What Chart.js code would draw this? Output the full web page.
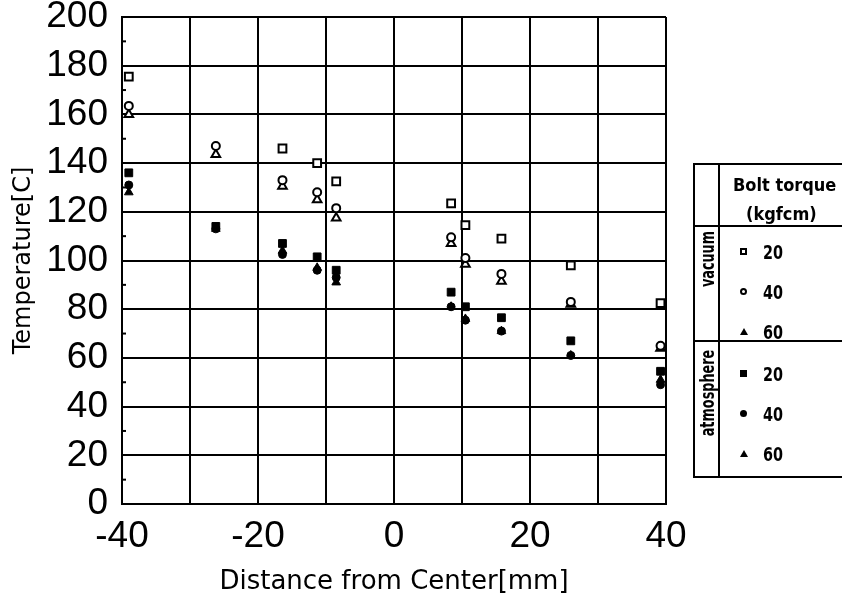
<!DOCTYPE html>
<html>
<head>
<meta charset="utf-8">
<script src="https://cdn.jsdelivr.net/npm/chart.js@4.4.0/dist/chart.umd.min.js"></script>
<style>
  body { margin: 0; background: #fff; }
  #wrap { position: relative; width: 842px; height: 601px; }
  #legend { position: absolute; left: 693px; top: 163px; width: 160px; height: 315px;
    border: 2px solid #000; box-sizing: border-box; color: #000;
    font-family: "Liberation Sans Narrow", "DejaVu Sans Condensed", "DejaVu Sans", sans-serif; font-weight: bold; }
  #legend .vline { position: absolute; left: 23px; top: 0; bottom: 0; border-left: 2px solid #000; }
  #legend .hline { position: absolute; left: 0; right: 0; border-top: 2px solid #000; }
  #legend .t { position: absolute; white-space: nowrap; line-height: 1; }
  #legend .side { position: absolute; font-size: 19px; line-height: 1; white-space: nowrap;
    transform: translate(-50%, -50%) rotate(-90deg) scaleX(0.75); }
  #legend .mk { position: absolute; width: 7px; height: 7px; box-sizing: border-box; }
</style>
</head>
<body>
<div id="wrap">
  <canvas id="chart" width="842" height="601"></canvas>
  <div id="legend"></div>
</div>
<script>
// distance from center [mm]
const positions = [-39, -26.2, -16.4, -11.3, -8.5, 8.4, 10.5, 15.8, 26, 39.2];

// temperatures [C], vacuum
const vacuum20 = [175.5, null, 146, 140, 132.5, 123.5, 114.5, 109, 98, 82.5];
const vacuum40 = [163.5, 147, 133, 128, 121.5, 109.5, 101, 94.5, 83, 65];
const vacuum60 = [160, 143.5, 130.5, 125, 117.5, 107, 98.5, 91.5, 82, 64];

// temperatures [C], atmosphere
const atmos20 = [136, 114, 107, 101.5, 96, 87, 81, 76.5, 67, 54.5];
const atmos40 = [131, 113, 102.5, 96, 93, 81, 75.5, 71, 61, 49];
const atmos60 = [128, 113, 104, 97, 91, 81, 76, 71, 61, 51];

const torqueLabels = ['20', '40', '60'];

const toPoints = (ys) => positions.map((x, i) => ({ x, y: ys[i] })).filter(p => p.y !== null);

const radiusFor = (style) => (style === 'rect' ? 5.5 : style === 'triangle' ? 5 : 4);

const openSet = (label, ys, style) => ({
  label, data: toPoints(ys), pointStyle: style, pointRadius: radiusFor(style),
  backgroundColor: '#fff', borderColor: '#000', pointBorderWidth: 2,
});
const filledSet = (label, ys, style) => ({
  label, data: toPoints(ys), pointStyle: style, pointRadius: radiusFor(style),
  backgroundColor: '#000', borderColor: '#000', pointBorderWidth: 1,
});

// small minor ticks on the left axis, between the labelled ones
const minorTicks = {
  id: 'minorTicks',
  afterDatasetsDraw(chart) {
    const { ctx, chartArea, scales } = chart;
    ctx.save();
    ctx.strokeStyle = '#000';
    ctx.lineWidth = 2;
    for (let v = 10; v < 200; v += 20) {
      const y = scales.y.getPixelForValue(v);
      ctx.beginPath();
      ctx.moveTo(chartArea.left, y);
      ctx.lineTo(chartArea.left + 4, y);
      ctx.stroke();
    }
    ctx.restore();
  },
};

new Chart(document.getElementById('chart'), {
  type: 'scatter',
  data: {
    datasets: [
      openSet('vacuum 20', vacuum20, 'rect'),
      openSet('vacuum 40', vacuum40, 'circle'),
      openSet('vacuum 60', vacuum60, 'triangle'),
      filledSet('atmosphere 20', atmos20, 'rect'),
      filledSet('atmosphere 40', atmos40, 'circle'),
      filledSet('atmosphere 60', atmos60, 'triangle'),
    ],
  },
  options: {
    responsive: false,
    animation: false,
    layout: { padding: { top: 0, right: 176, left: 9, bottom: 3 } },
    scales: {
      x: {
        type: 'linear', min: -40, max: 40,
        border: { display: true, color: '#000', width: 2 },
        grid: { color: '#000', lineWidth: 2, drawTicks: false },
        ticks: {
          stepSize: 10, color: '#000', padding: 14,
          font: { family: 'Liberation Sans', size: 37, lineHeight: 1 },
          callback: (v) => (v % 20 === 0 ? v : ''),
        },
        title: {
          display: true, text: 'Distance from Center[mm]', color: '#000',
          font: { family: 'DejaVu Sans', size: 26 }, padding: { top: 10, bottom: 0 },
        },
        afterFit: (scale) => {
          scale.height = 94;
          scale.paddingLeft = 0;
          scale.paddingRight = 0;
        },
      },
      y: {
        min: 0, max: 200,
        border: { display: true, color: '#000', width: 2 },
        grid: { color: '#000', lineWidth: 2, drawTicks: false },
        ticks: {
          stepSize: 20, color: '#000', padding: 14,
          font: { family: 'Liberation Sans', size: 37, lineHeight: 1 },
        },
        title: {
          display: true, text: 'Temperature[C]', color: '#000',
          font: { family: 'DejaVu Sans', size: 24 }, padding: { top: 0, bottom: 6 },
        },
        afterFit: (scale) => {
          scale.width = 113;
          scale.paddingTop = 17;
          scale.paddingBottom = 0;
        },
      },
    },
    plugins: { legend: { display: false }, tooltip: { enabled: false } },
  },
  plugins: [minorTicks],
});

// custom boxed legend, like the original figure
const legend = document.getElementById('legend');
const add = (cls, css, text) => {
  const d = document.createElement('div');
  d.className = cls;
  Object.assign(d.style, css);
  if (text) d.textContent = text;
  legend.appendChild(d);
  return d;
};
add('vline', {});
add('hline', { top: '60px' });
add('hline', { top: '175px' });
add('t', { left: '38px', top: '11px', fontSize: '18px' }, 'Bolt torque');
add('t', { left: '51px', top: '40px', fontSize: '18px' }, '(kgfcm)');
add('side', { left: '12px', top: '94px' }, 'vacuum');
add('side', { left: '12px', top: '228px' }, 'atmosphere');

const rowTops = [87, 127, 167, 209, 249, 289];
const markerCss = [
  { border: '2px solid #000' },
  { border: '2px solid #000', borderRadius: '50%' },
  { width: '0', height: '0', borderLeft: '4px solid transparent', borderRight: '4px solid transparent', borderBottom: '7px solid #000' },
  { background: '#000' },
  { background: '#000', borderRadius: '50%' },
  { width: '0', height: '0', borderLeft: '4px solid transparent', borderRight: '4px solid transparent', borderBottom: '7px solid #000' },
];
rowTops.forEach((y, i) => {
  add('mk', Object.assign({ left: '45px', top: (y - 4) + 'px' }, markerCss[i]));
  add('t', { left: '68px', top: (y - 10) + 'px', fontSize: '20px', transform: 'scaleX(0.8)', transformOrigin: 'left' }, torqueLabels[i % 3]);
});
</script>
</body>
</html>
